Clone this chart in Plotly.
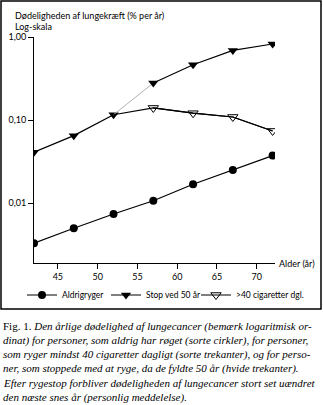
import plotly.graph_objects as go

ages = [42, 47, 52, 57, 62, 67, 72]
aldrigryger = [0.0033, 0.0050, 0.0074, 0.0107, 0.0169, 0.0250, 0.0374]
stop50 = [0.041, 0.065, 0.116, 0.279, 0.464, 0.69, 0.824]
over40_ages = [57, 62, 67, 72]
over40 = [0.140, 0.121, 0.109, 0.074]

x_ticks = [45, 50, 55, 60, 65, 70]
y_ticks = [1.0, 0.1, 0.01]
y_ticktext = ["1,00", "0,10", "0,01"]

caption_lines = [
    "Fig. 1. <i>Den årlige dødelighed af lungecancer (bemærk logaritmisk or-</i>",
    "<i>dinat) for personer, som aldrig har røget (sorte cirkler), for personer,</i>",
    "<i>som ryger mindst 40 cigaretter dagligt (sorte trekanter), og for perso-</i>",
    "<i>ner, som stoppede med at ryge, da de fyldte 50 år (hvide trekanter).</i>",
    "<i>Efter rygestop forbliver dødeligheden af lungecancer stort set uændret</i>",
    "<i>den næste snes år (personlig meddelelse).</i>",
]

W, H = 323, 405
L, R, T, B = 34, 275, 37, 263


def px(x):
    return (x - L) / (R - L)


def py(y):
    return (B - y) / (B - T)


SANS = "Lato, 'Liberation Sans', sans-serif"
SERIF = "'Liberation Serif', serif"

fig = go.Figure()

fig.add_trace(go.Scatter(
    x=ages, y=aldrigryger, mode="lines+markers", name="Aldrigryger",
    line=dict(color="black", width=1.2),
    marker=dict(symbol="circle", size=8, color="black"),
    legend="legend",
))

# Stop ved 50 år: black up to 52, grey segment 52-57, black after
fig.add_trace(go.Scatter(
    x=ages[:3], y=stop50[:3], mode="lines+markers", name="Stop ved 50 år",
    line=dict(color="black", width=1.2),
    marker=dict(symbol="triangle-down", size=9, color="black"),
    legendgroup="s", showlegend=True, legend="legend2",
))
fig.add_trace(go.Scatter(
    x=ages[2:4], y=stop50[2:4], mode="lines",
    line=dict(color="#b0b0b0", width=1), showlegend=False, hoverinfo="skip",
))
fig.add_trace(go.Scatter(
    x=ages[3:], y=stop50[3:], mode="lines+markers",
    line=dict(color="black", width=1.2),
    marker=dict(symbol="triangle-down", size=9, color="black"),
    legendgroup="s", showlegend=False,
))

# >40 cigaretter: joins from the 52-year point
fig.add_trace(go.Scatter(
    x=[ages[2]] + over40_ages, y=[stop50[2]] + over40, mode="lines",
    line=dict(color="black", width=1.2), showlegend=False, hoverinfo="skip",
))
fig.add_trace(go.Scatter(
    x=over40_ages, y=over40, mode="lines+markers", name=">40 cigaretter dgl.",
    line=dict(color="black", width=1.2),
    marker=dict(symbol="triangle-down-open", size=9, color="black",
                line=dict(width=1)),
    legend="legend3",
))

annotations = [
    dict(text="Dødeligheden af lungekræft (% per år)", x=px(13), y=py(15),
         xref="paper", yref="paper",
         xanchor="left", yanchor="middle", showarrow=False,
         font=dict(family=SANS, size=9, color="black")),
    dict(text="Log-skala", x=px(13), y=py(27), xref="paper", yref="paper",
         xanchor="left", yanchor="middle", showarrow=False,
         font=dict(family=SANS, size=9, color="black")),
    dict(text="Alder (år)", x=px(277), y=py(263), xref="paper", yref="paper",
         xanchor="left", yanchor="middle", showarrow=False,
         font=dict(family=SANS, size=9, color="black")),
]
for i, line in enumerate(caption_lines):
    annotations.append(dict(
        text=line, x=px(1), y=py(326 + i * 14.2), xref="paper", yref="paper",
        xanchor="left", yanchor="middle",
        showarrow=False, font=dict(family=SERIF, size=11, color="black"),
    ))


def leg(xpix):
    return dict(orientation="h", xref="container", yref="container",
                x=xpix / W, y=(H - 295) / H, xanchor="left", yanchor="middle",
                font=dict(family=SANS, size=8.5), itemwidth=30,
                bgcolor="rgba(0,0,0,0)", borderwidth=0)


fig.update_layout(
    width=W, height=H,
    margin=dict(l=L, r=W - R, t=T, b=H - B, pad=0, autoexpand=False),
    paper_bgcolor="white", plot_bgcolor="white",
    font=dict(family=SANS, size=9, color="black"),
    xaxis=dict(range=[42, 72.3], tickvals=x_ticks, ticks="outside", ticklen=5,
               tickwidth=1, tickcolor="black", showgrid=False, zeroline=False,
               showline=True, linecolor="black", linewidth=1,
               tickfont=dict(family=SANS, size=9)),
    yaxis=dict(type="log", range=[-2.72, 0], tickvals=y_ticks, ticktext=y_ticktext,
               ticks="outside", ticklen=5, tickwidth=1, tickcolor="black",
               showgrid=False, zeroline=False, showline=True, linecolor="black",
               linewidth=1, tickfont=dict(family=SANS, size=9)),
    legend=leg(22),
    legend2=leg(106),
    legend3=leg(196),
    annotations=annotations,
    shapes=[dict(type="rect", xref="paper", yref="paper",
                 x0=px(1), x1=px(321), y0=py(1), y1=py(309),
                 line=dict(color="black", width=1.5))],
    showlegend=True,
)

fig.write_html("out.html")
